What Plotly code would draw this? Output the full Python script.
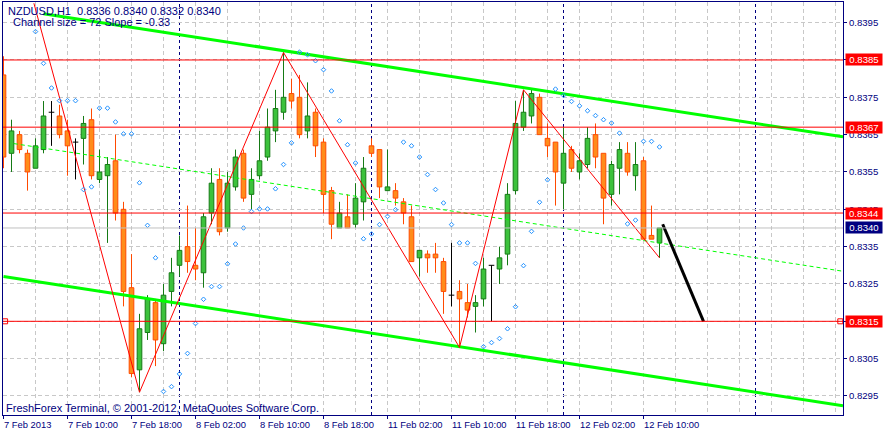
import numpy as np
import plotly.graph_objects as go

# NZDUSD H1 candles, bar index 0 = 7 Feb 2013 02:00
open_ = [0.8381, 0.8360, 0.8365, 0.8360, 0.8356, 0.8361, 0.8371, 0.8370, 0.8366, 0.8363,
         0.8364, 0.8369, 0.8353, 0.8354, 0.8358, 0.8345, 0.8324, 0.8302, 0.8312, 0.8320,
         0.8309, 0.8323, 0.8330, 0.8335, 0.8330, 0.8328, 0.8344, 0.8353, 0.8340, 0.8351,
         0.8360, 0.8349, 0.8354, 0.8359, 0.8366, 0.8371, 0.8376, 0.8375, 0.8366, 0.8371,
         0.8363, 0.8350, 0.8340, 0.8343, 0.8341, 0.8347, 0.8362, 0.8361, 0.8350, 0.8350,
         0.8347, 0.8343, 0.8332, 0.8333, 0.8333, 0.8331, 0.8322, 0.8323, 0.8320, 0.8319,
         0.8321, 0.8330, 0.8329, 0.8333, 0.8350, 0.8367, 0.8370, 0.8375, 0.8364, 0.8363,
         0.8352, 0.8361, 0.8355, 0.8357, 0.8365, 0.8360, 0.8349, 0.8356, 0.8360, 0.8354,
         0.8358, 0.8338, 0.8336]
high = [0.8386, 0.8369, 0.8366, 0.8361, 0.8364, 0.8374, 0.8374, 0.8373, 0.8369, 0.8364,
        0.8370, 0.8372, 0.8361, 0.8359, 0.8365, 0.8347, 0.8333, 0.8317, 0.8322, 0.8321,
        0.8325, 0.8332, 0.8338, 0.8346, 0.8340, 0.8344, 0.8356, 0.8356, 0.8355, 0.8361,
        0.8361, 0.8356, 0.8366, 0.8372, 0.8377, 0.8387, 0.8380, 0.8381, 0.8379, 0.8372,
        0.8364, 0.8351, 0.8347, 0.8349, 0.8352, 0.8359, 0.8364, 0.8361, 0.8361, 0.8352,
        0.8348, 0.8346, 0.8334, 0.8334, 0.8336, 0.8332, 0.8336, 0.8326, 0.8325, 0.8322,
        0.8332, 0.8330, 0.8335, 0.8352, 0.8374, 0.8377, 0.8377, 0.8376, 0.8368, 0.8363,
        0.8367, 0.8362, 0.8360, 0.8367, 0.8368, 0.8360, 0.8358, 0.8363, 0.8363, 0.8363,
        0.8359, 0.8346, 0.8340]
low = [0.8356, 0.8355, 0.8360, 0.8350, 0.8356, 0.8360, 0.8362, 0.8364, 0.8354, 0.8353,
       0.8357, 0.8353, 0.8352, 0.8336, 0.8342, 0.8319, 0.8300, 0.8296, 0.8310, 0.8303,
       0.8307, 0.8319, 0.8327, 0.8328, 0.8326, 0.8324, 0.8341, 0.8338, 0.8339, 0.8350,
       0.8347, 0.8345, 0.8353, 0.8358, 0.8363, 0.8369, 0.8372, 0.8364, 0.8364, 0.8359,
       0.8344, 0.8337, 0.8340, 0.8340, 0.8340, 0.8342, 0.8359, 0.8348, 0.8350, 0.8346,
       0.8341, 0.8331, 0.8327, 0.8328, 0.8328, 0.8317, 0.8319, 0.8308, 0.8316, 0.8312,
       0.8319, 0.8315, 0.8325, 0.8330, 0.8349, 0.8366, 0.8368, 0.8365, 0.8359, 0.8346,
       0.8345, 0.8355, 0.8353, 0.8356, 0.8356, 0.8341, 0.8346, 0.8349, 0.8354, 0.8350,
       0.8337, 0.8337, 0.8332]
close = [0.8359, 0.8366, 0.8361, 0.8355, 0.8362, 0.8370, 0.8371, 0.8365, 0.8362, 0.8363,
         0.8368, 0.8354, 0.8355, 0.8357, 0.8344, 0.8323, 0.8301, 0.8313, 0.8321, 0.8310,
         0.8322, 0.8328, 0.8334, 0.8331, 0.8329, 0.8343, 0.8352, 0.8339, 0.8352, 0.8359,
         0.8348, 0.8353, 0.8358, 0.8367, 0.8372, 0.8375, 0.8374, 0.8365, 0.8370, 0.8362,
         0.8349, 0.8341, 0.8344, 0.8340, 0.8348, 0.8356, 0.8360, 0.8351, 0.8351, 0.8348,
         0.8344, 0.8331, 0.8334, 0.8332, 0.8332, 0.8323, 0.8322, 0.8321, 0.8318, 0.8320,
         0.8329, 0.8330, 0.8332, 0.8349, 0.8368, 0.8371, 0.8376, 0.8365, 0.8362, 0.8355,
         0.8360, 0.8356, 0.8358, 0.8364, 0.8359, 0.8348, 0.8357, 0.8361, 0.8355, 0.8357,
         0.8337, 0.8337, 0.8340]

# parabolic SAR dots (first bars not visible)
sar = [None, None, None, None, 0.83926, 0.83841, 0.83775, 0.83741, 0.83741, 0.83741,
       0.83503, 0.83510, 0.83721, 0.83721, 0.83684, 0.83652, 0.83652, 0.83521, 0.83407, 0.83320,
       0.82962, 0.82975, 0.83009, 0.83064, 0.83144, 0.83209, 0.83243, 0.83243, 0.83304, 0.83357,
       0.83400, 0.83444, 0.83451, 0.83451, 0.83505, 0.83570, 0.83628, 0.83871, 0.83864, 0.83848,
       0.83824, 0.83767, 0.83687, 0.83623, 0.83574, 0.83371, 0.83384, 0.83409, 0.83431, 0.83449,
       0.83630, 0.83620, 0.83590, 0.83543, 0.83503, 0.83467, 0.83409, 0.83360, 0.83360, 0.83305,
       0.83082, 0.83093, 0.83104, 0.83130, 0.83189, 0.83299, 0.83391, 0.83469, 0.83529, 0.83772,
       0.83755, 0.83739, 0.83727, 0.83714, 0.83701, 0.83690, 0.83681, 0.83654, 0.83411, 0.83421,
       0.83632, 0.83632, 0.83617]

zigzag_bar = [3.8, 17, 35, 57, 65, 82]
zigzag_price = [0.84002, 0.8296, 0.8387, 0.8308, 0.8377, 0.8332]

chan_upper_bar = [5.0, 104.94]
chan_upper = [0.83974, 0.83644]
chan_mid_bar = [1.3, 104.94]
chan_mid = [0.83626, 0.83284]
chan_lower_bar = [0, 104.94]
chan_lower = [0.83270, 0.82924]

proj_bar = [82.4, 87.5]
proj_price = [0.8341, 0.8315]

levels = [0.8385, 0.8367, 0.8344, 0.8315]
bid = 0.8340
day_start_bars = [22, 46, 70, 94]

xtick_bars = [0, 8, 16, 24, 32, 40, 48, 56, 64, 72, 80]
xtick_text = ["7 Feb 2013", "7 Feb 10:00", "7 Feb 18:00", "8 Feb 02:00", "8 Feb 10:00",
              "8 Feb 18:00", "11 Feb 02:00", "11 Feb 10:00", "11 Feb 18:00",
              "12 Feb 02:00", "12 Feb 10:00"]

NAVY = "#000080"
FONT = "Liberation Sans"

o = np.array(open_)
h = np.array(high)
l = np.array(low)
c = np.array(close)
idx = np.arange(len(o))
doji = np.isclose(o, c)
up = (c > o) & ~doji
down = (c < o) & ~doji
body_lo = np.minimum(o, c)
body_hi = np.maximum(o, c)


def wicks(mask):
    xs, ys = [], []
    for i in idx[mask]:
        xs += [i, i, None, i, i, None]
        ys += [h[i], body_hi[i], None, body_lo[i], l[i], None]
    return xs, ys


fig = go.Figure()

for mask, fill, edge in [(up, "#3CC23C", "#157A15"), (down, "#FF8C1A", "#FF4A00")]:
    fig.add_trace(go.Bar(x=idx[mask], base=body_lo[mask], y=(body_hi - body_lo)[mask],
                         width=0.58, marker=dict(color=fill, line=dict(color=edge, width=1))))
    wx, wy = wicks(mask)
    fig.add_trace(go.Scatter(x=wx, y=wy, mode="lines", line=dict(color=edge, width=1)))

# doji crosses
dx, dy = [], []
for i in idx[doji]:
    dx += [i, i, None, i - 0.35, i + 0.35, None]
    dy += [l[i], h[i], None, o[i], o[i], None]
fig.add_trace(go.Scatter(x=dx, y=dy, mode="lines", line=dict(color="black", width=1)))

# channel
fig.add_trace(go.Scatter(x=chan_upper_bar, y=chan_upper, mode="lines",
                         line=dict(color="#00FF00", width=3)))
fig.add_trace(go.Scatter(x=chan_lower_bar, y=chan_lower, mode="lines",
                         line=dict(color="#00FF00", width=3)))
fig.add_trace(go.Scatter(x=chan_mid_bar, y=chan_mid, mode="lines",
                         line=dict(color="#00FF00", width=1, dash="4px,3px")))

# zigzag
fig.add_trace(go.Scatter(x=zigzag_bar, y=zigzag_price, mode="lines",
                         line=dict(color="#FF0000", width=1)))

# SAR
fig.add_trace(go.Scatter(x=idx, y=sar, mode="markers",
                         marker=dict(symbol="diamond-open", size=3.5, color="#1E90FF",
                                     line=dict(width=1, color="#1E90FF"))))

# projection
fig.add_trace(go.Scatter(x=proj_bar, y=proj_price, mode="lines",
                         line=dict(color="black", width=3)))

# anchor squares of the 0.8315 level
fig.add_trace(go.Scatter(x=[0.2, 104.6], y=[levels[-1], levels[-1]], mode="markers",
                         marker=dict(symbol="square-open", size=5, color="#FF0000",
                                     line=dict(width=1, color="#FF0000"))))

shapes = []
for d in day_start_bars:
    shapes.append(dict(type="line", xref="x", yref="paper", x0=d, x1=d, y0=0, y1=1,
                       layer="between", line=dict(color=NAVY, width=1, dash="3px,3px")))
shapes.append(dict(type="line", xref="paper", yref="y", x0=0, x1=1, y0=bid, y1=bid,
                   layer="above", line=dict(color="#C0C0C0", width=1)))
for lv in levels:
    shapes.append(dict(type="line", xref="paper", yref="y", x0=0, x1=1, y0=lv, y1=lv,
                       layer="above", line=dict(color="#FF0000", width=1)))

annotations = []
for b, t in zip(xtick_bars, xtick_text):
    annotations.append(dict(x=b, xref="x", y=0, yref="paper", text=t, showarrow=False,
                            xanchor="left", yanchor="top", xshift=-2, yshift=-2,
                            font=dict(family=FONT, size=9.4, color=NAVY)))
for lv in levels:
    annotations.append(dict(x=1, xref="paper", y=lv, yref="y", text=f"{lv:.4f}",
                            showarrow=False, xanchor="left", yanchor="middle", xshift=2,
                            width=36, height=11, borderpad=0, bgcolor="#FF0000",
                            font=dict(family=FONT, size=9.6, color="white")))
annotations.append(dict(x=1, xref="paper", y=bid, yref="y", text=f"{bid:.4f}",
                        showarrow=False, xanchor="left", yanchor="middle", xshift=2,
                        width=36, height=11, borderpad=0, bgcolor=NAVY,
                        font=dict(family=FONT, size=9.6, color="white")))
annotations.append(dict(x=0, xref="paper", y=1, yref="paper",
                        text="NZDUSD,H1\u00a0\u00a00.8336 0.8340 0.8332 0.8340",
                        showarrow=False, xanchor="left", yanchor="top", xshift=3, yshift=-0.5,
                        font=dict(family=FONT, size=11, color=NAVY)))
annotations.append(dict(x=0, xref="paper", y=1, yref="paper",
                        text="Channel size = 72 Slope = -0.33",
                        showarrow=False, xanchor="left", yanchor="top", xshift=8, yshift=-11.5,
                        font=dict(family=FONT, size=11, color=NAVY)))
annotations.append(dict(x=0, xref="paper", y=0, yref="paper",
                        text="FreshForex Terminal, © 2001-2012, MetaQuotes Software Corp.",
                        showarrow=False, xanchor="left", yanchor="bottom", xshift=1, yshift=-1,
                        font=dict(family=FONT, size=11, color=NAVY)))

fig.update_layout(
    width=885, height=436,
    margin=dict(l=3, r=42, t=2, b=21),
    paper_bgcolor="white", plot_bgcolor="white",
    showlegend=False, barmode="overlay",
    shapes=shapes, annotations=annotations,
    xaxis=dict(range=[-0.0625, 104.9375], tickmode="array", tickvals=xtick_bars,
               showticklabels=False, ticks="outside", ticklen=3, tickcolor=NAVY,
               showgrid=True, gridcolor="#C8C8C8", griddash="4px,3px", gridwidth=1,
               minor=dict(tickmode="linear", tick0=0, dtick=4, showgrid=True,
                          gridcolor="#C8C8C8", griddash="4px,3px", ticks=""),
               showline=True, mirror=True, linecolor=NAVY, linewidth=1, zeroline=False),
    yaxis=dict(range=[0.828990, 0.840053], side="right", tickmode="linear",
               tick0=0.8295, dtick=0.001, tickformat=".4f",
               ticks="outside", ticklen=3, tickcolor=NAVY,
               tickfont=dict(family=FONT, size=9.6, color=NAVY),
               showgrid=True, gridcolor="#C8C8C8", griddash="4px,3px", gridwidth=1,
               showline=True, mirror=True, linecolor=NAVY, linewidth=1, zeroline=False),
)

fig.write_html("out.html", config={"displayModeBar": False},
               post_script="document.body.style.margin='0';")
